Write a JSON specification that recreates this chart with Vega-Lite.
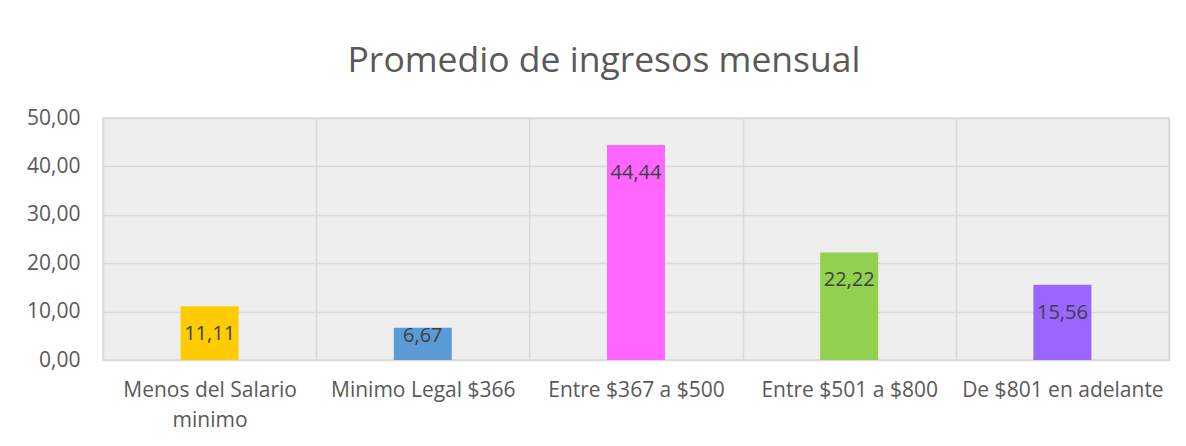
{
  "$schema": "https://vega.github.io/schema/vega-lite/v6.json",
  "width": 1066,
  "height": 242,
  "autosize": {"type": "none"},
  "padding": {"left": 103, "top": 118, "right": 17, "bottom": 86},
  "background": "white",
  "title": {
    "text": "Promedio de ingresos mensual",
    "font": "Open Sans",
    "fontSize": 35.5,
    "fontWeight": "normal",
    "color": "#595959",
    "anchor": "middle",
    "frame": "group",
    "baseline": "alphabetic",
    "offset": 0,
    "dx": -32
  },
  "data": {
    "values": [
      {"cat": "Menos del Salario minimo", "v": 11.11},
      {"cat": "Minimo Legal $366", "v": 6.67},
      {"cat": "Entre $367 a $500", "v": 44.44},
      {"cat": "Entre $501 a $800", "v": 22.22},
      {"cat": "De $801 en adelante", "v": 15.56}
    ]
  },
  "encoding": {
    "x": {
      "field": "cat",
      "type": "nominal",
      "sort": null,
      "scale": {"paddingInner": 0, "paddingOuter": 0},
      "axis": {
        "title": null,
        "labelAngle": 0,
        "tickBand": "extent",
        "grid": true,
        "gridColor": "#D9D9D9",
        "gridWidth": 1.5,
        "ticks": false,
        "domain": false,
        "labelPadding": 19,
        "labelFont": "Open Sans",
        "labelFontSize": 21,
        "labelColor": "#595959",
        "labelLineHeight": 30,
        "labelLimit": 400,
        "labelOverlap": false,
        "labelBaseline": "top",
        "labelExpr": "datum.value == 'Menos del Salario minimo' ? ['Menos del Salario', 'minimo'] : datum.value"
      }
    },
    "y": {
      "field": "v",
      "type": "quantitative",
      "scale": {"domain": [0, 50], "nice": false},
      "axis": {
        "title": null,
        "values": [0, 10, 20, 30, 40, 50],
        "format": ".2f",
        "domain": false,
        "ticks": false,
        "labelPadding": 23,
        "labelFont": "Open Sans",
        "labelFontSize": 21,
        "labelColor": "#595959",
        "gridColor": "#D9D9D9",
        "gridWidth": 1.5
      }
    }
  },
  "layer": [
    {
      "mark": {"type": "bar", "width": {"band": 0.272}},
      "encoding": {
        "color": {
          "field": "cat",
          "type": "nominal",
          "sort": null,
          "scale": {
            "domain": ["Menos del Salario minimo", "Minimo Legal $366", "Entre $367 a $500", "Entre $501 a $800", "De $801 en adelante"],
            "range": ["#FFCC00", "#5B9BD5", "#FF66FF", "#92D050", "#9966FF"]
          },
          "legend": null
        }
      }
    },
    {
      "mark": {
        "type": "text",
        "font": "Open Sans",
        "fontSize": 20,
        "color": "#404040",
        "baseline": "middle",
        "align": "center",
        "dy": {"expr": "datum.v < 10 ? 8 : 28"}
      },
      "encoding": {
        "text": {"field": "v", "type": "quantitative", "format": ".2f"}
      }
    }
  ],
  "config": {
    "locale": {
      "number": {"decimal": ",", "thousands": ".", "grouping": [3], "currency": ["$", ""]}
    },
    "view": {"fill": "#EEEEEE", "stroke": "#D9D9D9", "strokeWidth": 1.5}
  }
}
